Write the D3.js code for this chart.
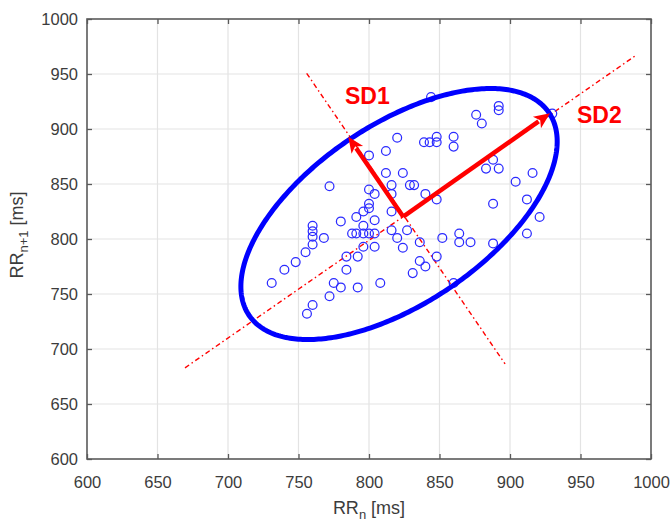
<!DOCTYPE html>
<html><head><meta charset="utf-8">
<script src="https://cdn.jsdelivr.net/npm/d3@7/dist/d3.min.js"></script>
<style>body{margin:0;background:#fff}svg{display:block}</style>
</head><body>
<svg id="c" width="672" height="521"></svg>
<script>
// ---- data (ms) ----
const rrN  = [844,820,839,843,848,848,860,860,876,880,892,892,930,800,812,812,824,888,883,892,
              904,916,912,888,921,772,816,829,832,800,804,816,840,848,800,800,796,816,791,780,
              804,796,760,760,760,768,788,791,796,800,804,816,827,820,836,852,864,864,872,888,
              912,760,796,804,824,755,748,740,731,784,792,784,775,780,772,792,808,760,756,836,
              840,831,848,860];
const rrN1 = [929,892,888,888,893,888,893,884,913,905,921,917,914,876,880,860,860,872,864,864,
              852,860,836,832,820,848,849,849,849,845,841,841,841,836,832,828,825,825,820,816,
              817,812,812,807,802,801,805,805,805,805,805,808,808,801,797,801,805,797,797,796,
              805,795,793,793,792,788,779,772,760,784,784,772,760,756,748,756,760,740,732,780,
              775,769,784,760];
const xTicks = [600,650,700,750,800,850,900,950,1000];
const yTicks = [600,650,700,750,800,850,900,950,1000];
// Poincaré annotations (data units)
const ellipseCentre = [821.3, 822.7];
const ellipseMajorTip = [927.7, 914.7];
const ellipseMinorTip = [785.8, 890.2];
const arrowOrigin = [824.3, 820.3];
const sd1Tip = [785.3, 893.0];
const sd2Tip = [928.4, 914.3];
const sd2Line = [[669.5, 682.9],[988.7, 966.4]];
const sd1Line = [[755.8, 950.6],[896.5, 686.4]];
const labels = [{t:"SD1", at:[783, 922.5]},{t:"SD2", at:[947.5, 905.5]}];

// ---- layout ----
const svg = d3.select("#c");
const L=87, T=19, R=651, B=459;
const x = d3.scaleLinear().domain([600,1000]).range([L,R]);
const y = d3.scaleLinear().domain([600,1000]).range([B,T]);
const axisCol = "#5a5a5a", txtCol = "#3c3c3c";

// grid
const g = svg.append("g");
g.selectAll(".gx").data(xTicks.slice(1,-1)).join("line")
  .attr("x1",d=>x(d)).attr("x2",d=>x(d)).attr("y1",T).attr("y2",B)
  .attr("stroke","#e3e3e3").attr("stroke-width",1.2);
g.selectAll(".gy").data(yTicks.slice(1,-1)).join("line")
  .attr("y1",d=>y(d)).attr("y2",d=>y(d)).attr("x1",L).attr("x2",R)
  .attr("stroke","#e3e3e3").attr("stroke-width",1.2);

// axes with D3 axis generators (inward ticks), plus box
const fnt = "Liberation Sans, Arial, sans-serif";
function styleAxis(sel){
  sel.select(".domain").remove();
  sel.selectAll(".tick line").attr("stroke",axisCol).attr("stroke-width",1.3);
  sel.selectAll(".tick text").attr("fill",txtCol).style("font-family",fnt).style("font-size","16.5px");
}
svg.append("g").attr("transform",`translate(0,${B})`)
  .call(d3.axisBottom(x).tickValues(xTicks).tickSize(-5).tickPadding(17).tickFormat(d3.format("d")))
  .call(styleAxis);
svg.append("g").attr("transform",`translate(${L},0)`)
  .call(d3.axisLeft(y).tickValues(yTicks).tickSize(-5).tickPadding(9).tickFormat(d3.format("d")))
  .call(styleAxis);
svg.append("g").attr("transform",`translate(0,${T})`)
  .call(d3.axisTop(x).tickValues(xTicks).tickSize(-5).tickFormat(""))
  .call(styleAxis);
svg.append("g").attr("transform",`translate(${R},0)`)
  .call(d3.axisRight(y).tickValues(yTicks).tickSize(-5).tickFormat(""))
  .call(styleAxis);
svg.append("rect").attr("x",L).attr("y",T).attr("width",R-L).attr("height",B-T)
  .attr("fill","none").attr("stroke",axisCol).attr("stroke-width",1.6);

// axis labels
const xl = svg.append("text").attr("x",369).attr("y",514).attr("text-anchor","middle")
  .attr("fill",txtCol).style("font-family",fnt).style("font-size","18px");
xl.append("tspan").text("RR");
xl.append("tspan").attr("dy",5).style("font-size","13px").text("n");
xl.append("tspan").attr("dy",-5).text(" [ms]");
const yl = svg.append("text").attr("transform","translate(23,235) rotate(-90)").attr("text-anchor","middle")
  .attr("fill",txtCol).style("font-family",fnt).style("font-size","18px");
yl.append("tspan").text("RR");
yl.append("tspan").attr("dy",5).style("font-size","13px").text("n+1");
yl.append("tspan").attr("dy",-5).text(" [ms]");

// dash-dot axes lines
[sd1Line, sd2Line].forEach(ln=>{
  svg.append("line").attr("x1",x(ln[0][0])).attr("y1",y(ln[0][1]))
    .attr("x2",x(ln[1][0])).attr("y2",y(ln[1][1]))
    .attr("stroke","#ff0000").attr("stroke-width",1.4).attr("stroke-dasharray","5,3,1.5,3");
});

// points
svg.append("g").selectAll("circle").data(rrN.map((v,i)=>[v,rrN1[i]])).join("circle")
  .attr("cx",d=>x(d[0])).attr("cy",d=>y(d[1])).attr("r",4.4)
  .attr("fill","none").attr("stroke","#2b2bff").attr("stroke-width",1.25);

// ellipse (conjugate semi-axes in data units)
const ts = d3.range(0, 2*Math.PI+0.001, Math.PI/180);
const ell = ts.map(t=>[
  x(ellipseCentre[0] + Math.cos(t)*(ellipseMajorTip[0]-ellipseCentre[0]) + Math.sin(t)*(ellipseMinorTip[0]-ellipseCentre[0])),
  y(ellipseCentre[1] + Math.cos(t)*(ellipseMajorTip[1]-ellipseCentre[1]) + Math.sin(t)*(ellipseMinorTip[1]-ellipseCentre[1]))
]);
svg.append("path").attr("d",d3.line()(ell)+"Z").attr("fill","none")
  .attr("stroke","#0000ff").attr("stroke-width",5);

// arrows
function arrow(from,to){
  const x0=x(from[0]), y0=y(from[1]), x1=x(to[0]), y1=y(to[1]);
  const len=Math.hypot(x1-x0,y1-y0), ux=(x1-x0)/len, uy=(y1-y0)/len;
  const hl=16, hw=7;
  const bx=x1-ux*hl, by=y1-uy*hl;
  svg.append("line").attr("x1",x0).attr("y1",y0).attr("x2",bx+ux*2).attr("y2",by+uy*2)
    .attr("stroke","#ff0000").attr("stroke-width",4.5);
  svg.append("path").attr("d",`M${x1},${y1}L${bx-uy*hw},${by+ux*hw}L${bx+ux*4},${by+uy*4}L${bx+uy*hw},${by-ux*hw}Z`)
    .attr("fill","#ff0000");
}
arrow(arrowOrigin, sd1Tip);
arrow(arrowOrigin, sd2Tip);

// SD labels
svg.selectAll(".sdl").data(labels).join("text")
  .attr("x",d=>x(d.at[0])).attr("y",d=>y(d.at[1]))
  .attr("fill","#ff0000").style("font-family",fnt).style("font-weight","bold").style("font-size","23px")
  .text(d=>d.t);
</script>
</body></html>
